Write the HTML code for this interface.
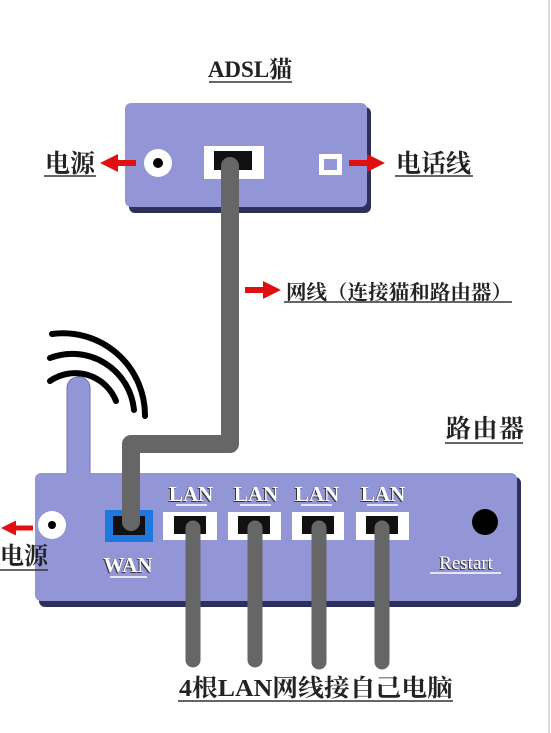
<!DOCTYPE html>
<html><head><meta charset="utf-8"><style>
html,body{margin:0;padding:0;background:#fff;width:551px;height:733px;overflow:hidden}
svg{display:block}
text{font-family:"Liberation Serif","Noto Serif CJK SC",serif;fill:#222;font-weight:bold}
.lbl{fill:#fff}
.sh{fill:#333}
</style></head><body>
<svg width="551" height="733" viewBox="0 0 551 733">
<defs>
<marker id="ah" markerWidth="3" markerHeight="3" refX="1" refY="1.5" orient="auto"><path d="M0,0 L3,1.5 L0,3 z" fill="#e01010"/></marker>
</defs>
<rect x="0" y="0" width="551" height="733" fill="#fff"/>
<line x1="549" y1="0" x2="549" y2="733" stroke="#ddd" stroke-width="2"/>

<g>
<text x="250" y="77" font-size="23" text-anchor="middle">ADSL猫</text>
<line x1="209" y1="82" x2="292" y2="82" stroke="#333" stroke-width="1.5"/>
</g>

<g>
<rect x="129" y="107" width="242" height="106" rx="6" fill="#2e2f5a"/>
<rect x="125" y="103" width="242" height="104" rx="6" fill="#9396d6"/>
<circle cx="158" cy="163" r="14" fill="#fff"/>
<circle cx="158" cy="163" r="5" fill="#000"/>
<rect x="204" y="146" width="60" height="33" fill="#fff"/>
<rect x="214" y="151" width="38" height="19" fill="#111"/>
<rect x="319" y="154" width="23" height="21" fill="#fff"/>
<rect x="324" y="159" width="13" height="11" fill="#9396d6"/>
</g>
<line x1="136" y1="163" x2="112" y2="163" stroke="#e01010" stroke-width="6" marker-end="url(#ah)"/>
<line x1="349" y1="163" x2="373" y2="163" stroke="#e01010" stroke-width="6" marker-end="url(#ah)"/>
<g>
<text x="45" y="172" font-size="25">电源</text>
<line x1="44" y1="176" x2="96" y2="176" stroke="#333" stroke-width="1.5"/>
</g>
<g>
<text x="396" y="172" font-size="25">电话线</text>
<line x1="395" y1="176" x2="473" y2="176" stroke="#333" stroke-width="1.5"/>
</g>

<g fill="none" stroke="#000" stroke-linecap="round">
<path d="M52,334 A82,82 0 0 1 145,416" stroke-width="6"/>
<path d="M50,358 A62,62 0 0 1 134,410" stroke-width="6"/>
<path d="M50,381 A44,44 0 0 1 116,401" stroke-width="6"/>
</g>

<g>
<rect x="67" y="377" width="23" height="130" rx="11" fill="#9396d6" stroke="#6f72b0" stroke-width="1"/>
<rect x="39" y="477" width="482" height="130" rx="6" fill="#2e2f5a"/>
<rect x="35" y="473" width="482" height="128" rx="6" fill="#9396d6"/>
<rect x="67" y="473" width="23" height="25" fill="#9396d6"/>
<circle cx="52" cy="525" r="14" fill="#fff"/>
<circle cx="52" cy="525" r="4" fill="#000"/>
<rect x="105" y="510" width="48" height="32" fill="#1f78e0"/>
<rect x="113" y="516" width="32" height="19" fill="#111"/>
<g>
<rect x="163" y="512" width="54" height="28" fill="#fff"/><rect x="174" y="516" width="32" height="18" fill="#111"/>
<rect x="228" y="512" width="53" height="28" fill="#fff"/><rect x="238" y="516" width="32" height="18" fill="#111"/>
<rect x="292" y="512" width="52" height="28" fill="#fff"/><rect x="302" y="516" width="32" height="18" fill="#111"/>
<rect x="356" y="512" width="53" height="28" fill="#fff"/><rect x="366" y="516" width="32" height="18" fill="#111"/>
</g>
<circle cx="485" cy="522" r="13" fill="#000"/>
<g font-size="21" text-anchor="middle">
<text class="sh" x="190" y="502">LAN</text><text class="lbl" x="191" y="501">LAN</text>
<text class="sh" x="255" y="502">LAN</text><text class="lbl" x="256" y="501">LAN</text>
<text class="sh" x="316" y="502">LAN</text><text class="lbl" x="317" y="501">LAN</text>
<text class="sh" x="382" y="502">LAN</text><text class="lbl" x="383" y="501">LAN</text>
<line x1="176" y1="505" x2="207" y2="505" stroke="#fff" stroke-width="1.5"/>
<line x1="240" y1="505" x2="271" y2="505" stroke="#fff" stroke-width="1.5"/>
<line x1="301" y1="505" x2="332" y2="505" stroke="#fff" stroke-width="1.5"/>
<line x1="367" y1="505" x2="398" y2="505" stroke="#fff" stroke-width="1.5"/>
</g>
<g>
<text class="sh" x="127" y="573" font-size="21" text-anchor="middle">WAN</text>
<text class="lbl" x="128" y="572" font-size="21" text-anchor="middle">WAN</text>
<line x1="110" y1="577" x2="147" y2="577" stroke="#fff" stroke-width="1.5"/>
</g>
<g>
<text class="sh" x="465" y="570" font-size="19" text-anchor="middle" style="font-weight:normal">Restart</text>
<text class="lbl" x="466" y="569" font-size="19" text-anchor="middle" style="font-weight:normal">Restart</text>
<line x1="430" y1="573" x2="501" y2="573" stroke="#fff" stroke-width="1.5"/>
</g>
</g>

<path d="M230,166 L230,444 L131,444 L131,522" fill="none" stroke="#666" stroke-width="18" stroke-linejoin="round" stroke-linecap="round"/>
<g stroke="#666" stroke-width="15" stroke-linecap="round">
<line x1="193" y1="528" x2="193" y2="660"/>
<line x1="255" y1="528" x2="255" y2="660"/>
<line x1="319" y1="528" x2="319" y2="662"/>
<line x1="382" y1="528" x2="382" y2="662"/>
</g>

<line x1="245" y1="290" x2="269" y2="290" stroke="#e01010" stroke-width="6" marker-end="url(#ah)"/>
<g>
<text x="286" y="299" font-size="20" textLength="226" lengthAdjust="spacingAndGlyphs">网线（连接猫和路由器）</text>
<line x1="284" y1="302" x2="512" y2="302" stroke="#333" stroke-width="1.5"/>
</g>
<g>
<text x="446" y="437" font-size="25" textLength="78">路由器</text>
<line x1="445" y1="443" x2="523" y2="443" stroke="#333" stroke-width="1.5"/>
</g>
<line x1="33" y1="528" x2="11" y2="528" stroke="#e01010" stroke-width="5" marker-end="url(#ah)"/>
<g>
<text x="0" y="564" font-size="24">电源</text>
<line x1="0" y1="570" x2="48" y2="570" stroke="#333" stroke-width="1.5"/>
</g>
<g>
<text x="179" y="696" font-size="24" textLength="274" lengthAdjust="spacingAndGlyphs">4根LAN网线接自己电脑</text>
<line x1="178" y1="701" x2="453" y2="701" stroke="#333" stroke-width="1.5"/>
</g>
</svg>
</body></html>
